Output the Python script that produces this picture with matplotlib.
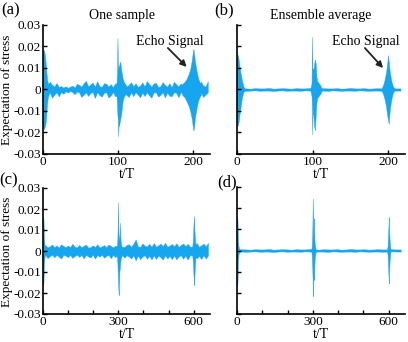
import numpy as np
import matplotlib
matplotlib.use("Agg")
import matplotlib.pyplot as plt

plt.rcParams['font.family'] = ['Liberation Serif', 'DejaVu Serif']

BLUE = '#16a6f0'
MILLI = 1e-3  # envelope values below are written in units of 1e-3

# ---------- (a) one sample, short record ----------
a_noise_t = np.arange(0, 222, 3)
a_noise_hi = [2, 2, 2, 3.6, 2.2, 1.4, 3.0, 1.2,
              1.6, 0.9, 1.5, 0.8, 1.3, 1.8, 0.9, 2.6,
              2.2, 1.3, 2.9, 4.0, 1.5, 2.4, 3.2, 1.3,
              3.8, 1.6, 1.2, 2.9, 2.7, 1.4, 2.5, 1.1,
              2.9, 2, 2, 2, 3.2, 1.3, 2.2, 3.4,
              1.5, 2.9, 1.2, 1.8, 3.3, 1.4, 3.9, 2.6,
              1.3, 2.8, 3.1, 1.2, 1.5, 3.4, 2.2, 1.3,
              2.9, 1.1, 3.6, 2.4, 1.5, 2.8, 2, 2,
              2, 2, 2, 2, 2, 2, 3.6, 1.8,
              1.3, 3.8]
a_noise_lo = [-2, -2, -2, -1.5, -3.8, -2.4, -1.3, -3.2,
              -1.2, -2.0, -0.8, -1.4, -0.7, -1.2, -2.2, -0.9,
              -1.4, -3.4, -2.5, -1.3, -3.0, -1.6, -1.2, -3.9,
              -1.2, -2.6, -3.3, -1.5, -1.3, -3.7, -2.8, -1.2,
              -3.2, -2, -2, -2, -1.4, -2.6, -3.5, -1.3,
              -3.1, -1.2, -2.4, -3.6, -1.5, -3.0, -1.3, -2.7,
              -3.8, -1.4, -1.3, -3.3, -2.5, -1.2, -3.7, -1.4,
              -2.9, -3.1, -1.3, -1.5, -3.6, -1.3, -2, -2,
              -2, -2, -2, -2, -2, -2, -1.4, -3.5,
              -2.4, -1.3]
a_bursts = [
    ([0, 0.5, 1.5, 2.5, 3.5, 4.5, 5.5, 6.5, 8],
     [17.5, 18.6, 18, 16, 12.4, 8, 4.5, 3.0, 2.0],
     [-16, -17.8, -18.5, -17, -15.5, -11, -6, -3.5, -2.0]),
    ([97, 98, 98.5, 99, 99.5, 100, 100.5, 101, 102, 103, 104, 105, 106, 107, 108, 110],
     [2, 4, 10, 24, 12, 9, 11, 10, 13, 12, 9, 7, 5, 4, 3, 2],
     [-2, -4, -9, -12, -14, -21.7, -16, -17, -15, -13, -11, -8, -5, -4, -3, -2]),
    ([185, 188, 191, 194, 196, 198, 199, 200, 201, 202, 204, 206, 208, 210],
     [2.5, 3.5, 5, 7.5, 10, 14, 17, 18.9, 16, 13, 9, 5.5, 3.5, 2.5],
     [-2.5, -3.5, -5.5, -8, -10.5, -14, -17, -19.1, -17, -13, -9, -5.5, -3.5, -2.5]),
]

# ---------- (b) ensemble average, short record ----------
b_noise_t = np.arange(0, 222, 6)
b_noise_hi = [0.5, 0.6, 0.5, 0.4, 0.6, 0.5, 0.5, 0.7, 0.4, 0.5, 0.6, 0.5, 0.4, 0.6, 0.5, 0.5,
              0.7, 0.5, 0.4, 0.6, 0.5, 0.5, 0.6, 0.4, 0.5, 0.7, 0.5, 0.5, 0.6, 0.4, 0.5, 0.6,
              0.5, 0.5, 0.6, 0.5, 0.5]
b_noise_lo = [-0.5, -0.5, -0.6, -0.5, -0.4, -0.6, -0.5, -0.5, -0.7, -0.5, -0.4, -0.6, -0.5, -0.5, -0.6, -0.4,
              -0.5, -0.6, -0.5, -0.5, -0.7, -0.4, -0.5, -0.6, -0.5, -0.5, -0.6, -0.4, -0.5, -0.6, -0.5, -0.5,
              -0.6, -0.5, -0.4, -0.5, -0.5]
b_bursts = [
    ([0, 0.5, 1.5, 2.5, 3.5, 4.5, 5.5, 7, 8.5, 10],
     [14, 16.3, 15.5, 13, 10.5, 8, 6.2, 3.5, 1.5, 0.5],
     [-15, -17, -16.5, -14, -11, -9, -6, -3, -1.2, -0.5]),
    ([97, 98.5, 99, 99.5, 100, 101, 102, 103, 104, 105, 106, 108, 110, 112],
     [0.5, 3, 24.5, 8, 10, 9, 12, 14, 12, 6, 4, 3, 2, 0.5],
     [-0.5, -3, -8, -21, -9, -12, -17, -19, -12, -6, -4, -3, -2, -0.5]),
    ([191, 193, 195, 197, 198.5, 199.5, 200.5, 202, 204, 206, 208],
     [0.5, 2, 4.5, 8, 12, 16, 13, 8, 4, 1.5, 0.5],
     [-0.5, -2, -4.5, -8, -12, -14, -16, -9, -4.5, -1.5, -0.5]),
]

# ---------- (c) one sample, long record ----------
c_noise_t = np.arange(0, 666, 9)
c_noise_hi = [2, 2.8, 1.7, 2.2, 3.1, 1.8, 2.7, 1.6,
              3.2, 2.4, 1.8, 2.6, 1.9, 3.4, 2.1, 1.7,
              2.9, 1.8, 2.5, 3.0, 1.6, 1.8, 2.7, 1.9,
              3.2, 1.7, 2.2, 2.8, 1.8, 3.1, 2.4, 1.7,
              2.6, 2, 2, 2, 1.9, 2.9, 3.2, 2.0,
              3.5, 5.5, 2.1, 2.0, 3.6, 2.5, 2.2, 3.4,
              2.0, 3.8, 2.1, 2.7, 3.5, 2.3, 3.9, 2.0,
              2.6, 3.3, 2.2, 3.7, 2.0, 2.8, 3.6, 2.3,
              3.4, 2.1, 2, 2, 3.9, 2.0, 2.7, 3.5,
              2.3, 3.8]
c_noise_lo = [-2, -1.8, -3.4, -2.5, -1.7, -3.0, -1.9, -2.6,
              -3.6, -1.8, -2.2, -2.9, -1.8, -3.3, -2.4, -1.7,
              -2.8, -1.9, -3.5, -1.8, -2.6, -3.1, -1.7, -3.6,
              -1.9, -2.7, -1.8, -3.2, -2.3, -1.9, -3.4, -1.8,
              -2.9, -2, -2, -2, -3.2, -2.0, -2.6, -3.6,
              -2.1, -4.5, -2.1, -3.9, -2.6, -2.0, -3.7, -2.3,
              -4.0, -2.1, -3.8, -2.2, -2.9, -4.1, -2.0, -3.6,
              -2.3, -3.9, -2.1, -4.0, -2.6, -2.0, -3.7, -2.2,
              -4.1, -2.1, -2, -2, -3.5, -2.3, -3.8, -2.0,
              -3.6, -2.1]
c_bursts = [
    ([0, 1, 2, 3, 4, 6, 8],
     [12, 16, 15, 10, 6, 3, 2.0],
     [-10, -16.3, -15, -10, -6, -3, -2.0]),
    ([294, 296, 298, 299, 300, 301, 302, 303, 304, 306, 307, 308, 309, 311, 314],
     [2, 5, 15, 23.3, 12, 8, 7, 6, 5, 8, 13.5, 8, 5, 3, 2],
     [-2, -5, -12, -15, -18, -20, -21, -16, -10, -8, -6, -5, -4, -3, -2]),
    ([594, 597, 599, 601, 602, 603, 605, 607, 610],
     [2, 5, 12, 16.7, 14, 10, 6, 3.5, 2],
     [-2, -5, -11, -15, -16.3, -12, -7, -3.5, -2]),
]

# ---------- (d) ensemble average, long record ----------
d_noise_t = np.arange(0, 666, 18)
d_noise_hi = b_noise_hi
d_noise_lo = b_noise_lo
d_bursts = [
    ([0, 1, 2, 3, 4, 6, 8, 10],
     [12, 16, 14, 9, 5, 2, 1, 0.5],
     [-11, -16.9, -15, -10, -5, -2, -1, -0.5]),
    ([294, 296, 298, 300, 301, 302, 303, 304, 305, 306, 308, 310, 312],
     [0.5, 2, 8, 24.6, 14, 8, 6, 15.2, 10, 6, 3, 1.5, 0.5],
     [-0.5, -2, -8, -18, -21.6, -14, -8, -12, -14, -8, -3, -1.5, -0.5]),
    ([594, 596, 598, 600, 601, 602, 604, 606, 608],
     [0.5, 2, 7, 13, 15.7, 11, 5, 2, 0.5],
     [-0.5, -2, -7, -13, -15.6, -11, -5, -2, -0.5]),
]

y_ticks = [-0.03, -0.02, -0.01, 0, 0.01, 0.02, 0.03]
y_ticklabels = ['-0.03', '-0.02', '-0.01', '0', '0.01', '0.02', '0.03']


def draw_signal(ax, noise_t, noise_hi, noise_lo, bursts):
    ax.fill_between(noise_t, np.array(noise_lo) * MILLI, np.array(noise_hi) * MILLI,
                    color=BLUE, lw=0.3)
    for t, hi, lo in bursts:
        ax.fill_between(t, np.array(lo) * MILLI, np.array(hi) * MILLI, color=BLUE, lw=0.3)


def style_axes(ax, xmax, xticks, xlabels, ylabels=True):
    ax.set_xlim(0, xmax)
    ax.set_ylim(-0.03, 0.03)
    for s in ['top', 'right']:
        ax.spines[s].set_visible(False)
    for s in ['left', 'bottom']:
        ax.spines[s].set_linewidth(1.2)
    ax.set_xticks(xticks)
    ax.set_xticklabels(xlabels)
    ax.set_yticks(y_ticks)
    ax.set_yticklabels(y_ticklabels if ylabels else [])
    ax.tick_params(direction='in', length=3, width=1, labelsize=9.5, pad=1.5)
    ax.set_xlabel('t/T', fontsize=10, labelpad=0)


W, H = 408, 342
fig = plt.figure(figsize=(W / 100, H / 100), dpi=100)

def add_axes(left, right, top, bottom):
    return fig.add_axes([left / W, 1 - bottom / H, (right - left) / W, (bottom - top) / H])

ax_a = add_axes(43, 210, 25, 154)
ax_b = add_axes(237, 405, 25, 154)
ax_c = add_axes(43, 210, 188, 314)
ax_d = add_axes(237, 405, 187, 314)

draw_signal(ax_a, a_noise_t, a_noise_hi, a_noise_lo, a_bursts)
draw_signal(ax_b, b_noise_t, b_noise_hi, b_noise_lo, b_bursts)
draw_signal(ax_c, c_noise_t, c_noise_hi, c_noise_lo, c_bursts)
draw_signal(ax_d, d_noise_t, d_noise_hi, d_noise_lo, d_bursts)

style_axes(ax_a, 222, [0, 100, 200], ['0', '100', '200'])
style_axes(ax_b, 222, [0, 100, 200], ['0', '100', '200'], ylabels=False)
style_axes(ax_c, 665, [0, 100, 200, 300, 400, 500, 600], ['0', '', '', '300', '', '', '600'])
style_axes(ax_d, 665, [0, 100, 200, 300, 400, 500, 600], ['0', '', '', '300', '', '', '600'], ylabels=False)

# echo annotations
for ax, txt_x, tail, head in [(ax_a, 168, (166, 0.0193), (191, 0.0105)),
                               (ax_b, 170, (169, 0.0193), (193, 0.0100))]:
    ax.text(txt_x, 0.0222, 'Echo Signal', ha='center', va='center', fontsize=10)
    ax.annotate('', xy=head, xytext=tail,
                arrowprops=dict(arrowstyle='-|>', color='#222222', lw=1.3, mutation_scale=9,
                                shrinkA=0, shrinkB=0))

fig.text(122 / W, 1 - 15 / H, 'One sample', ha='center', va='center', fontsize=10)
fig.text(321 / W, 1 - 15 / H, 'Ensemble average', ha='center', va='center', fontsize=10)

fig.text(7 / W, 1 - 90 / H, 'Expectation of stress', rotation=90, ha='center', va='center', fontsize=9.5)
fig.text(7 / W, 1 - 252 / H, 'Expectation of stress', rotation=90, ha='center', va='center', fontsize=9.5)

for lbl, x, y in [('(a)', 11, 10), ('(b)', 224, 10), ('(c)', 9, 180), ('(d)', 227, 182)]:
    fig.text(x / W, 1 - y / H, lbl, ha='center', va='center', fontsize=12)

fig.savefig('out.png', dpi=100)
